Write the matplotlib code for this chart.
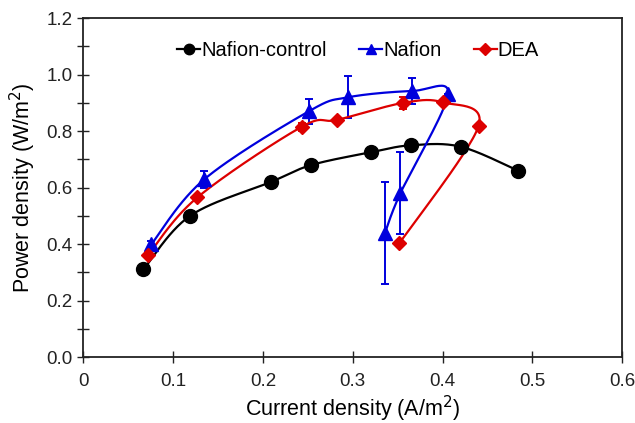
import matplotlib
matplotlib.use("Agg")
import matplotlib.pyplot as plt
from matplotlib.ticker import MultipleLocator
import numpy as np

# ── data ─────────────────────────────────────────────────────────────────────
ctrl_x = [0.067, 0.119, 0.209, 0.254, 0.320, 0.365, 0.420, 0.484]
ctrl_y = [0.31, 0.50, 0.62, 0.68, 0.725, 0.750, 0.745, 0.66]

naf_x = [0.076, 0.135, 0.251, 0.295, 0.366, 0.406, 0.353, 0.336]
naf_y = [0.40, 0.63, 0.87, 0.92, 0.942, 0.93, 0.58, 0.44]
naf_err = [0.01, 0.03, 0.043, 0.075, 0.045, 0.0, 0.145, 0.18]

dea_x = [0.072, 0.127, 0.243, 0.283, 0.356, 0.400, 0.440, 0.352]
dea_y = [0.36, 0.565, 0.815, 0.84, 0.90, 0.902, 0.818, 0.403]
dea_err = [0.0, 0.0, 0.015, 0.0, 0.022, 0.0, 0.0, 0.0]

x_ticks = [0, 0.1, 0.2, 0.3, 0.4, 0.5, 0.6]
x_labels = ["0", "0.1", "0.2", "0.3", "0.4", "0.5", "0.6"]
y_ticks = [0.0, 0.2, 0.4, 0.6, 0.8, 1.0, 1.2]
y_labels = ["0.0", "0.2", "0.4", "0.6", "0.8", "1.0", "1.2"]


def smooth(xs, ys, n=30):
    # spreadsheet-style smoothed line (bezier with 1/6 handles)
    p = np.column_stack([xs, ys])
    p = np.vstack([p[0], p, p[-1]])
    out = []
    for i in range(1, len(p) - 2):
        p0, p1, p2, p3 = p[i - 1], p[i], p[i + 1], p[i + 2]
        c1 = p1 + (p2 - p0) / 6
        c2 = p2 - (p3 - p1) / 6
        t = np.linspace(0, 1, n)[:, None]
        seg = ((1 - t) ** 3) * p1 + 3 * ((1 - t) ** 2) * t * c1 \
            + 3 * (1 - t) * t ** 2 * c2 + t ** 3 * p2
        out.append(seg)
    c = np.vstack(out)
    return c[:, 0], c[:, 1]


plt.rcParams["font.family"] = ["Liberation Sans", "DejaVu Sans"]

fig = plt.figure(figsize=(6.35, 4.23), dpi=100)
ax = fig.add_axes([0.131, 0.156, 0.849, 0.801])

series = [
    (ctrl_x, ctrl_y, None, "black", "o", 10, "Nafion-control"),
    (naf_x, naf_y, naf_err, "#0000dd", "^", 9.5, "Nafion"),
    (dea_x, dea_y, dea_err, "#dd0000", "D", 7.5, "DEA"),
]
handles = []
for xs, ys, err, col, mk, ms, lab in series:
    sx, sy = smooth(xs, ys)
    ax.plot(sx, sy, color=col, linewidth=1.6, zorder=2)
    if err is not None:
        ax.errorbar(xs, ys, yerr=err, fmt="none", ecolor=col, elinewidth=1.4,
                    capsize=3, capthick=1.4, zorder=2)
    ax.plot(xs, ys, linestyle="none", marker=mk, markersize=ms, color=col, zorder=3)
    h, = ax.plot([], [], color=col, marker=mk, markersize=ms * 0.75, linewidth=1.6, label=lab)
    handles.append(h)

ax.set_xlim(0, 0.6)
ax.set_ylim(0, 1.2)
ax.set_xticks(x_ticks)
ax.set_xticklabels(x_labels)
ax.set_yticks(y_ticks)
ax.set_yticklabels(y_labels)
ax.yaxis.set_minor_locator(MultipleLocator(0.1))
ax.tick_params(axis="both", which="both", direction="inout", length=9, width=1,
               labelsize=13.5, colors="#222222")
ax.tick_params(axis="x", pad=7)
ax.tick_params(axis="y", pad=3)
for s in ax.spines.values():
    s.set_linewidth(1.3)
    s.set_color("#222222")

ax.set_xlabel("Current density (A/m$^2$)", fontsize=15.5, labelpad=3)
ax.set_ylabel("Power density (W/m$^2$)", fontsize=15.5, labelpad=6)

ax.legend(handles=handles, loc="upper center", bbox_to_anchor=(0.51, 0.985), ncol=3,
          frameon=False, fontsize=14.5, handlelength=1.15, handletextpad=0.05,
          columnspacing=1.6)

fig.savefig("out.png", dpi=100)
